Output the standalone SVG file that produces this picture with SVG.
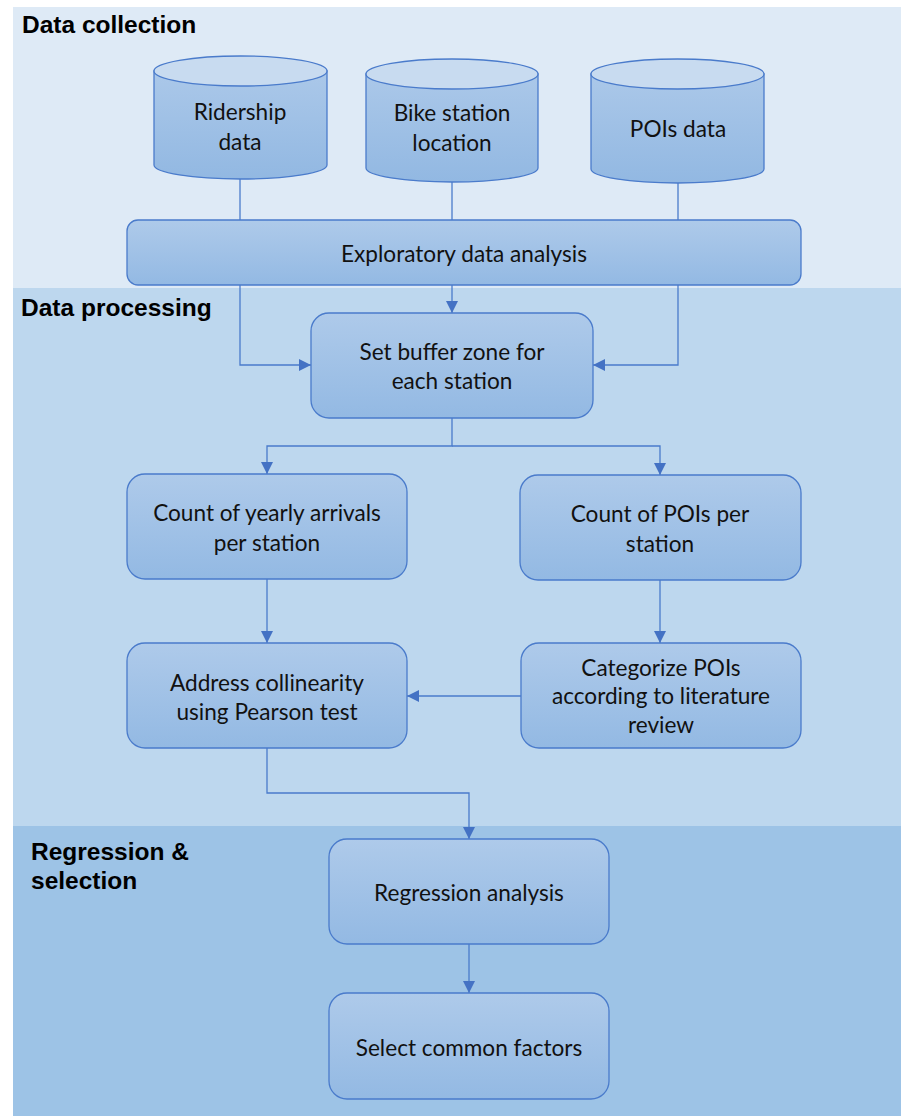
<svg xmlns="http://www.w3.org/2000/svg" width="901" height="1116" viewBox="0 0 901 1116">
<style>
.box{stroke:#4a7bcb;stroke-width:1.3;fill:url(#bg)}
.cyl{stroke:#4a7bcb;stroke-width:1.3;fill:url(#cg)}
.cyltop{stroke:#4a7bcb;stroke-width:1.3;fill:#c8dbf0}
.t{font-family:Lato,"Open Sans",sans-serif;font-size:22.6px;fill:#111;text-anchor:middle}
.h{font-family:"Liberation Sans",Arial,sans-serif;font-size:24.5px;font-weight:bold;fill:#000}
.c{stroke:#4a7bcb;stroke-width:1.3;fill:none}
</style>
<defs>
<linearGradient id="bg" x1="0" y1="0" x2="0" y2="1"><stop offset="0" stop-color="#aecaea"/><stop offset="1" stop-color="#93b9e3"/></linearGradient>
<linearGradient id="cg" x1="0" y1="0" x2="0" y2="1"><stop offset="0" stop-color="#abc8e9"/><stop offset="1" stop-color="#92b8e2"/></linearGradient>
<marker id="a" viewBox="0 0 12 12" refX="12" refY="6" markerWidth="12" markerHeight="12" markerUnits="userSpaceOnUse" orient="auto"><path d="M0,0 L12,6 L0,12 Z" fill="#4472c4"/></marker>
</defs>
<rect x="0" y="0" width="901" height="1116" fill="#ffffff"/>
<g id="panel-collection"><rect x="13" y="7" width="888" height="281" fill="#deeaf6"/><text class="h" x="22" y="33">Data collection</text></g>
<g id="panel-processing"><rect x="13" y="288" width="888" height="538" fill="#bdd7ee"/><text class="h" x="21" y="316">Data processing</text></g>
<g id="panel-regression"><rect x="13" y="826" width="888" height="290" fill="#9dc3e6"/><text class="h" x="31" y="860">Regression &amp;</text><text class="h" x="31" y="889">selection</text></g>

<g id="connectors">
<line class="c" x1="240" y1="179" x2="240" y2="220"/>
<line class="c" x1="452" y1="182" x2="452" y2="220"/>
<line class="c" x1="678" y1="183" x2="678" y2="220"/>
<line class="c" x1="452" y1="285" x2="452" y2="313" marker-end="url(#a)"/>
<polyline class="c" points="240,285 240,365 311,365" marker-end="url(#a)"/>
<polyline class="c" points="678,285 678,365 593,365" marker-end="url(#a)"/>
<polyline class="c" points="452,418 452,446 267,446 267,474" marker-end="url(#a)"/>
<polyline class="c" points="452,446 660,446 660,475" marker-end="url(#a)"/>
<line class="c" x1="267" y1="579" x2="267" y2="643" marker-end="url(#a)"/>
<line class="c" x1="660" y1="580" x2="660" y2="643" marker-end="url(#a)"/>
<line class="c" x1="521" y1="696" x2="407" y2="696" marker-end="url(#a)"/>
<polyline class="c" points="267,748 267,793 469,793 469,839" marker-end="url(#a)"/>
<line class="c" x1="469" y1="944" x2="469" y2="993" marker-end="url(#a)"/>
</g>

<g id="ridership">
<path class="cyl" d="M154,71 V165 A86.5,14 0 0 0 327,165 V71 Z"/>
<ellipse class="cyltop" cx="240.5" cy="71" rx="86.5" ry="15"/>
<text class="t" x="240" y="120">Ridership</text><text class="t" x="240" y="150">data</text>
</g>
<g id="bike-station">
<path class="cyl" d="M366,74 V168 A86,14 0 0 0 538,168 V74 Z"/>
<ellipse class="cyltop" cx="452" cy="74" rx="86" ry="15"/>
<text class="t" x="452" y="121">Bike station</text><text class="t" x="452" y="151">location</text>
</g>
<g id="pois-data">
<path class="cyl" d="M591,74 V169 A86.5,14 0 0 0 764,169 V74 Z"/>
<ellipse class="cyltop" cx="677.5" cy="74" rx="86.5" ry="15"/>
<text class="t" x="678" y="137">POIs data</text>
</g>
<g id="eda"><rect class="box" x="127" y="220" width="674" height="65" rx="11"/><text class="t" x="464" y="262">Exploratory data analysis</text></g>
<g id="buffer"><rect class="box" x="311" y="313" width="282" height="105" rx="18"/><text class="t" x="452" y="360">Set buffer zone for</text><text class="t" x="452" y="389">each station</text></g>
<g id="yearly"><rect class="box" x="127" y="474" width="280" height="105" rx="18"/><text class="t" x="267" y="521">Count of yearly arrivals</text><text class="t" x="267" y="551">per station</text></g>
<g id="pois-count"><rect class="box" x="520" y="475" width="281" height="105" rx="18"/><text class="t" x="660" y="522">Count of POIs per</text><text class="t" x="660" y="552">station</text></g>
<g id="collinearity"><rect class="box" x="127" y="643" width="280" height="105" rx="18"/><text class="t" x="267" y="691">Address collinearity</text><text class="t" x="267" y="720">using Pearson test</text></g>
<g id="categorize"><rect class="box" x="521" y="643" width="280" height="105" rx="18"/><text class="t" x="661" y="676">Categorize POIs</text><text class="t" x="661" y="704">according to literature</text><text class="t" x="661" y="733">review</text></g>
<g id="regression"><rect class="box" x="329" y="839" width="280" height="105" rx="18"/><text class="t" x="469" y="901">Regression analysis</text></g>
<g id="select"><rect class="box" x="329" y="993" width="280" height="106" rx="18"/><text class="t" x="469" y="1056">Select common factors</text></g>
</svg>
